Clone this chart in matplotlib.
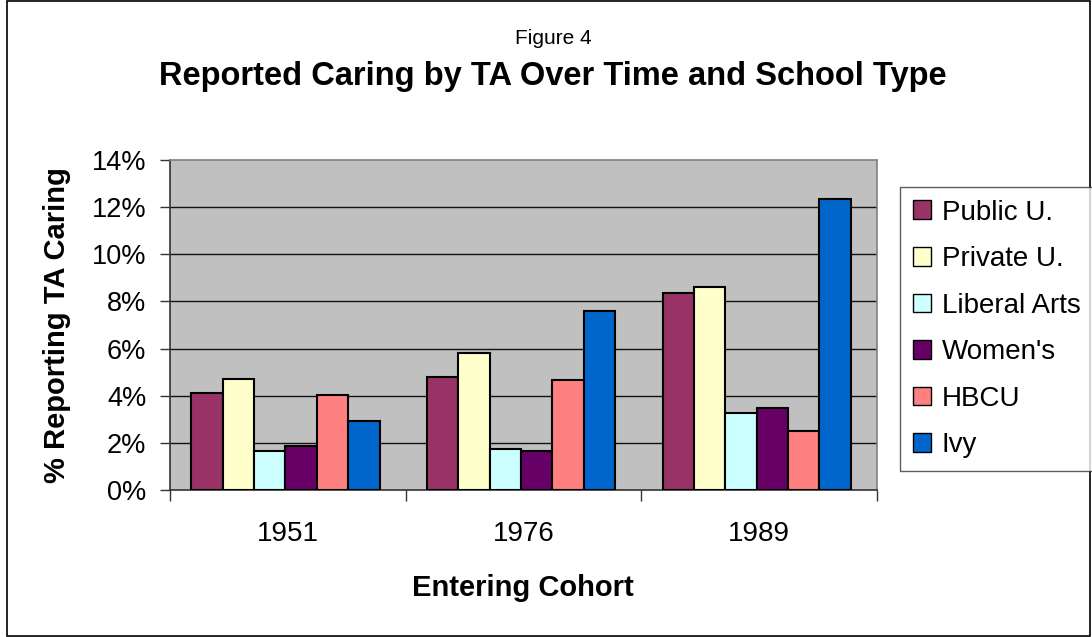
import numpy as np
import matplotlib
matplotlib.use("Agg")
import matplotlib.pyplot as plt
from matplotlib.patches import Rectangle
from matplotlib.ticker import FixedLocator, FuncFormatter

cohorts = ["1951", "1976", "1989"]
school_types = ["Public U.", "Private U.", "Liberal Arts", "Women's", "HBCU", "Ivy"]
public_u = [4.11, 4.79, 8.37]
private_u = [4.72, 5.82, 8.62]
liberal_arts = [1.65, 1.75, 3.27]
womens = [1.85, 1.66, 3.46]
hbcu = [4.02, 4.65, 2.52]
ivy = [2.94, 7.59, 12.35]
series = [public_u, private_u, liberal_arts, womens, hbcu, ivy]
colors = ["#993366", "#FFFFCC", "#CCFFFF", "#660066", "#FF8080", "#0066CC"]

plt.rcParams["font.family"] = ["Liberation Sans", "DejaVu Sans"]

fig = plt.figure(figsize=(10.92, 6.37), dpi=100, facecolor="white")
ax = fig.add_axes([170 / 1092, 1 - 490 / 637, 707 / 1092, 330 / 637])
ax.set_facecolor("#C0C0C0")

x = np.arange(len(cohorts))
w = 0.133
for i, (vals, c, lbl) in enumerate(zip(series, colors, school_types)):
    ax.bar(x - 0.01 + (i - 2.5) * w, vals, width=w, color=c, edgecolor="black",
           linewidth=1.5, label=lbl, zorder=3)

ax.set_xlim(-0.5, 2.5)
ax.set_ylim(0, 14)

# y axis
ax.set_yticks(np.arange(0, 15, 2))
ax.yaxis.set_major_formatter(FuncFormatter(lambda v, p: f"{v:.0f}%"))
ax.tick_params(axis="y", direction="out", length=7, width=1, pad=10,
               labelsize=19.5, color="#333333")
for yv in np.arange(2, 14, 2):
    ax.axhline(yv, color="#111111", linewidth=1.0, zorder=1)

# x axis: ticks at category boundaries, labels in the middle
ax.xaxis.set_major_locator(FixedLocator([-0.5, 0.5, 1.5, 2.5]))
ax.xaxis.set_major_formatter(FuncFormatter(lambda v, p: ""))
ax.xaxis.set_minor_locator(FixedLocator(x))
ax.set_xticklabels(cohorts, minor=True)
ax.tick_params(axis="x", which="major", direction="out", length=8, width=1, color="#333333")
ax.tick_params(axis="x", which="minor", length=0, pad=22, labelsize=20)

for s in ["top", "right"]:
    ax.spines[s].set_color("#808080")
    ax.spines[s].set_linewidth(1.2)
for s in ["left", "bottom"]:
    ax.spines[s].set_color("#333333")
    ax.spines[s].set_linewidth(1.2)

fig.text(57 / 1092, 1 - 325 / 637, "% Reporting TA Caring", rotation=90,
         ha="center", va="center", fontsize=21, fontweight="bold")
fig.text(523 / 1092, 1 - 588 / 637, "Entering Cohort", ha="center", va="center",
         fontsize=21, fontweight="bold")

fig.text(553 / 1092, 1 - 39 / 637, "Figure 4", ha="center", va="center", fontsize=15)
fig.text(553 / 1092, 1 - 77 / 637, "Reported Caring by TA Over Time and School Type",
         ha="center", va="center", fontsize=23.5, fontweight="bold")

leg = fig.legend(loc="upper left", bbox_to_anchor=(900 / 1092, 1 - 187 / 637),
                 fontsize=20, frameon=True, fancybox=False, shadow=False,
                 handlelength=0.65, handleheight=0.65, handletextpad=0.4,
                 labelspacing=0.74, borderpad=0.45, borderaxespad=0)
leg.get_frame().set_edgecolor("#333333")
leg.get_frame().set_linewidth(1.0)
for h in leg.legend_handles:
    h.set_linewidth(1.0)

fig.patches.append(Rectangle((0.006, 0.002), 0.992, 0.996, transform=fig.transFigure,
                             fill=False, edgecolor="black", linewidth=1.2))

fig.savefig("out.png", dpi=100)
